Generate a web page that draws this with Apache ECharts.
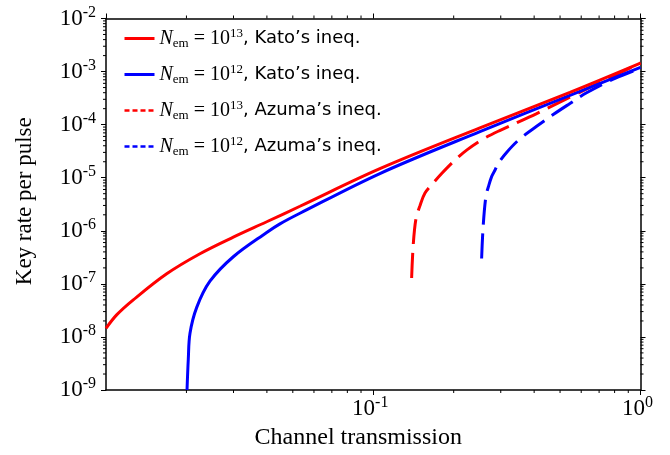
<!DOCTYPE html>
<html><head><meta charset="utf-8">
<script src="https://cdn.jsdelivr.net/npm/echarts@6/dist/echarts.min.js"></script>
<style>html,body{margin:0;padding:0;background:#fff}#c{width:670px;height:455px}</style>
</head><body><div id="c"></div>
<script>
// ---- data (x: channel transmission, y: key rate per pulse)
const katoN13 = [[0.01,1.45e-8],[0.01096,2.6e-8],[0.01265,5.0e-8],[0.01687,1.55e-7],[0.02247,3.7e-7],[0.02995,7.6e-7],[0.03993,1.48e-6],[0.05318,2.9e-6],[0.1059,1.48e-5],[0.2507,8.7e-5],[0.5444,4.07e-4],[1.0,1.45e-3]];
const katoN12 = [[0.0201,1e-9],[0.02032,3.8e-9],[0.02062,1.17e-8],[0.02185,3.6e-8],[0.02449,1.12e-7],[0.02995,3.24e-7],[0.03993,9.3e-7],[0.04477,1.35e-6],[0.05318,2.14e-6],[0.1059,1.2e-5],[0.2507,7.4e-5],[0.5444,3.55e-4],[1.0,1.2e-3]];
const azumaN13 = [[0.1392,1.29e-7],[0.1411,5.37e-7],[0.1444,1.66e-6],[0.1495,2.95e-6],[0.1562,5.13e-6],[0.1677,7.94e-6],[0.1803,1.2e-5],[0.1992,2.0e-5],[0.2236,3.31e-5],[0.2579,5.37e-5],[0.3,7.9e-5],[0.4087,1.62e-4],[0.5444,3.3e-4],[0.7467,7.2e-4],[1.0,1.45e-3]];
const azumaN12 = [[0.2544,3.0e-7],[0.2579,1.26e-6],[0.264,4.5e-6],[0.2693,6.6e-6],[0.2773,1.05e-5],[0.2853,1.38e-5],[0.2935,1.86e-5],[0.3155,3.0e-5],[0.3538,5.4e-5],[0.4087,9.3e-5],[0.4714,1.55e-4],[0.5444,2.5e-4],[0.6285,3.98e-4],[0.7906,7.2e-4],[0.9392,1.02e-3],[1.0,1.17e-3]];
const xRange = [0.01, 1];
const yRange = [1e-9, 1e-2];
const nemExp = {k13:'13', k12:'12', a13:'13', a12:'12'};
const ineqText = {k13:', Kato’s ineq.', k12:', Kato’s ineq.', a13:', Azuma’s ineq.', a12:', Azuma’s ineq.'};
const xAxisName = 'Channel transmission';
const yAxisName = 'Key rate per pulse';

const RED = '#ff0000', BLUE = '#0000ff';
const SERIF = 'Liberation Serif';

// minor tick positions (2..9 within each decade)
const minorItems = [];
for (let d = -2; d < 0; d++) for (let k = 2; k <= 9; k++) minorItems.push([k * Math.pow(10, d), yRange[0], 0]);
for (let d = -9; d < -2; d++) for (let k = 2; k <= 9; k++) minorItems.push([xRange[0], k * Math.pow(10, d), 1]);

function powLabel(v) {
  const e = Math.round(Math.log10(v));
  return '{b|10}{s|' + e + '}';
}
const tickRich = {
  b: {fontFamily: SERIF, fontSize: 23, color: '#000'},
  s: {fontFamily: SERIF, fontSize: 16, color: '#000', padding: [0, 0, 12, 0]}
};
const axisLineStyle = {color: '#000', width: 1.5};
const tickStyle = {show: true, inside: false, length: 5, lineStyle: {color: '#000', width: 1}};

function mkX(pos, labels) {
  return {
    type: 'log', logBase: 10, min: xRange[0], max: xRange[1], interval: 1, position: pos,
    axisLine: {show: true, onZero: false, lineStyle: axisLineStyle},
    axisTick: tickStyle, splitLine: {show: false}, minorTick: {show: false},
    axisLabel: labels ? {show: true, showMinLabel: false, margin: 5, padding: [0, 6, 0, 0], formatter: powLabel, rich: tickRich} : {show: false},
    name: labels ? xAxisName : '', nameLocation: 'middle', nameGap: 36,
    nameTextStyle: {fontFamily: SERIF, fontSize: 24, color: '#000', padding: [0, 30, 0, 0]}
  };
}
function mkY(pos, labels) {
  return {
    type: 'log', logBase: 10, min: yRange[0], max: yRange[1], interval: 1, position: pos,
    axisLine: {show: true, onZero: false, lineStyle: axisLineStyle},
    axisTick: tickStyle, splitLine: {show: false}, minorTick: {show: false},
    axisLabel: labels ? {show: true, margin: 10, formatter: powLabel, rich: tickRich} : {show: false},
    name: labels ? yAxisName : '', nameLocation: 'middle', nameGap: 70, nameRotate: 90,
    nameTextStyle: {fontFamily: SERIF, fontSize: 23, color: '#000', padding: [0, 0, 0, 6]}
  };
}

const lineSeries = (name, data, color, dashed) => ({
  name, type: 'line', data, symbol: 'none', smooth: 0.35, clip: true,
  lineStyle: {color, width: 3, type: dashed ? [25, 9] : 'solid'},
  itemStyle: {color}, xAxisIndex: 0, yAxisIndex: 0
});

const option = {
  animation: false,
  backgroundColor: '#fff',
  grid: {left: 106, right: 29.5, top: 18.5, bottom: 57, containLabel: false},
  xAxis: [mkX('bottom', true), mkX('top', false)],
  yAxis: [mkY('left', true), mkY('right', false)],
  legend: {
    orient: 'vertical', left: 123, top: 27, padding: 0, itemGap: 13,
    itemWidth: 30, itemHeight: 14,
    itemStyle: {opacity: 0, color: 'rgba(0,0,0,0)', borderWidth: 0},
    data: [
      {name: 'k13', lineStyle: {width: 3}},
      {name: 'k12', lineStyle: {width: 3}},
      {name: 'a13', lineStyle: {type: [5, 3], width: 2.5}},
      {name: 'a12', lineStyle: {type: [5, 3], width: 2.5}}
    ],
    formatter: n => '{n|N}{sub|em}{eq| = 10}{sup|' + nemExp[n] + '}{t|' + ineqText[n] + '}',
    textStyle: {
      padding: [0, 0, 0, 0],
      rich: {
        n: {fontFamily: SERIF, fontStyle: 'italic', fontSize: 20, color: '#000'},
        sub: {fontFamily: SERIF, fontSize: 13, color: '#000', padding: [10, 0, 0, 0]},
        eq: {fontFamily: SERIF, fontSize: 20, color: '#000'},
        sup: {fontFamily: SERIF, fontSize: 13, color: '#000', padding: [0, 0, 10, 0]},
        t: {fontFamily: 'DejaVu Sans', fontSize: 18, color: '#000'}
      }
    }
  },
  series: [
    lineSeries('a12', azumaN12, BLUE, true),
    lineSeries('a13', azumaN13, RED, true),
    lineSeries('k12', katoN12, BLUE, false),
    lineSeries('k13', katoN13, RED, false),
    {
      type: 'custom', name: 'minorTicks', silent: true, clip: false,
      xAxisIndex: 0, yAxisIndex: 0, encode: {x: 0, y: 1},
      data: minorItems,
      renderItem(params, api) {
        const v0 = api.value(0), v1 = api.value(1), kind = api.value(2);
        const L = 3, st = {stroke: '#000', lineWidth: 1};
        if (kind === 0) {
          const b = api.coord([v0, yRange[0]]), t = api.coord([v0, yRange[1]]);
          return {type: 'group', children: [
            {type: 'line', shape: {x1: b[0], y1: b[1], x2: b[0], y2: b[1] + L}, style: st},
            {type: 'line', shape: {x1: t[0], y1: t[1], x2: t[0], y2: t[1] - L}, style: st}
          ]};
        }
        const l = api.coord([xRange[0], v1]), r = api.coord([xRange[1], v1]);
        return {type: 'group', children: [
          {type: 'line', shape: {x1: l[0], y1: l[1], x2: l[0] - L, y2: l[1]}, style: st},
          {type: 'line', shape: {x1: r[0], y1: r[1], x2: r[0] + L, y2: r[1]}, style: st}
        ]};
      }
    }
  ]
};
const chart = echarts.init(document.getElementById('c'), null, {renderer: 'canvas'});
chart.setOption(option);
</script></body></html>
